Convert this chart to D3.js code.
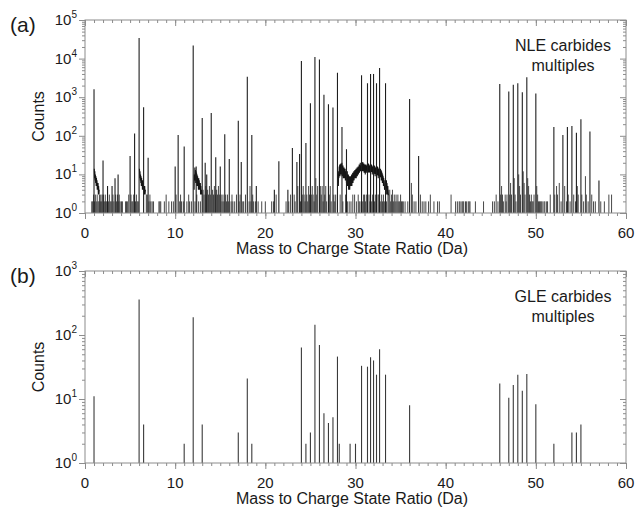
<!DOCTYPE html>
<html><head><meta charset="utf-8">
<script src="https://cdn.jsdelivr.net/npm/d3@7"></script>
<style>
body{margin:0;background:#fff;}
text{font-family:"Liberation Sans",Arial,sans-serif;fill:#1a1a1a;}
</style></head>
<body><svg id="c" width="636" height="508"></svg>
<script>
// ---------- data ----------
const xTicks = [0, 10, 20, 30, 40, 50, 60];
const yTicksA = [1, 10, 100, 1000, 10000, 100000];
const yTicksB = [1, 10, 100, 1000];
const xLabel = "Mass to Charge State Ratio (Da)";
const yLabel = "Counts";
const panelLabels = ["(a)", "(b)"];
const notesA = ["NLE carbides", "multiples"];
const notesB = ["GLE carbides", "multiples"];

// panel (a) main peaks [mass, counts]
const peaksA = [[1.0,1600],[2.0,23],[2.5,5],[3.0,5],[3.33,8],[3.67,10],[5.0,30],[5.5,115],[6.0,34000],[6.5,550],[7.0,27],
[10.0,16],[10.33,105],[11.0,53],[12.0,22000],[12.33,16],[13.0,290],[13.33,20],[13.5,10],[14.0,390],[14.5,28],[15.0,16],
[15.5,110],[16.0,25],[17.0,245],[17.33,21],[18.0,3400],[18.5,105],[19.0,5],[21.0,4],[21.5,22],[22.5,4],[23.0,48],[23.5,21],
[23.8,34],[24.0,8700],[24.5,65],[25.0,700],[25.5,11000],[26.0,9500],[26.5,1150],[27.0,660],[27.5,540],[28.0,4300],[28.5,170],
[29.0,45],[30.67,3700],[31.33,2300],[31.67,4000],[32.0,4000],[32.33,2300],[32.67,5700],[33.33,2300],[36.0,900],[37.0,30],
[46.0,2200],[47.0,1400],[47.5,2100],[48.0,2300],[48.5,1350],[49.0,3300],[50.0,1250],[52.0,170],[53.0,105],[53.5,170],
[54.0,180],[54.5,120],[55.0,270],[56.0,130],[57.0,7]];

// panel (a) low-count background bars [mass, counts]
const noiseA = [[0.75,2],[0.85,2],[0.95,3],[1.05,2],[1.15,3],[1.25,2],[1.35,3],[1.45,2],[1.55,2],[1.6,3],[1.7,2],[1.75,3],
[1.85,2],[1.9,3],[2.05,3],[2.15,2],[2.25,3],[2.3,2],[2.4,2],
[2.6,2],[2.7,3],[2.8,2],[2.9,2],[3.1,3],[3.2,2],[3.4,3],[3.5,2],[3.6,3],[3.75,2],[3.8,3],[3.9,2],[4.05,2],[4.15,2],
[4.5,2],[4.6,2],[4.7,2],[4.85,3],[5.1,3],[5.2,2],[5.3,2],[5.4,3],[5.6,2],[5.7,3],[5.8,2],[5.9,2],[6.8,3],[6.9,3],[7.1,2],
[7.2,3],[7.3,2],[7.45,2],[7.6,2],[8.2,2],[8.3,2],[8.4,2],[8.8,2],[9.0,3],[9.3,2],[9.6,2],[9.8,2],[10.1,3],[10.5,2],[10.6,3],
[10.7,2],[10.9,2],[11.3,2],[11.5,3],[11.6,2],[11.8,2],[12.2,2],[12.4,3],[12.6,2],[12.8,2],[13.1,4],[13.2,3],[13.4,5],[13.45,3],[13.6,4],[13.7,3],[13.8,5],
[13.9,3],[14.15,4],[14.25,3],[14.35,5],[14.45,3],[14.6,4],[14.7,3],[14.8,5],[14.9,3],[15.1,3],[15.2,2],[15.3,3],[15.4,2],
[15.6,3],[15.7,2],[15.8,3],[15.9,2],[16.2,2],[16.3,3],[16.4,2],[16.6,2],[16.8,3],[17.1,2],[17.2,3],[17.5,2],[17.6,2],
[17.8,3],[18.2,2],[18.3,5],[18.4,2],[18.6,3],[18.7,2],[18.9,2],[19.2,2],[19.6,2],[20.0,2],[20.7,2],[20.9,2],[21.2,3],
[22.3,2],[22.6,2],[22.8,3],[23.2,3],[23.3,2],[23.6,5],[23.9,2],[24.1,3],[24.2,5],[24.3,3],[24.4,2],[24.6,3],[24.7,2],
[24.8,5],[24.9,3],[25.1,3],[25.2,5],[25.3,3],[25.4,2],[25.6,8],[25.7,3],[25.8,5],[26.1,5],[26.2,3],[26.3,5],[26.4,2],
[26.6,3],[26.7,5],[26.8,2],[27.1,3],[27.2,5],[27.3,2],[27.6,3],[27.7,2],[27.8,3],[28.3,3],[28.6,2],[28.9,3],[29.1,2],[29.3,2],[29.5,2],[29.7,3],
[29.9,3],[30.1,2],[30.3,3],[30.4,2],[30.5,2],[30.8,2],[30.9,3],[31.0,3],[31.1,2],[31.2,3],[31.5,3],[31.6,2],[31.8,2],[31.9,3],[32.1,2],[32.2,3],
[32.3,2],[32.5,3],[32.6,3],[32.8,2],[32.9,3],[33.0,2],[33.1,3],[33.2,2],[33.45,2],[33.6,5],[33.7,3],[33.8,4],[33.9,2],[34.0,3],[34.1,4],[34.2,2],[34.3,3],[34.4,2],[34.5,3],[34.6,2],[34.7,3],
[34.8,2],[34.9,2],[35.0,3],[35.1,2],[35.2,2],[35.3,2],[35.5,2],[35.8,2],[36.2,6],[36.3,3],[36.5,2],[36.7,2],[37.2,3],
[37.4,2],[37.6,2],[37.8,2],[38.1,2],[38.3,3],[38.7,2],[39.1,2],[39.3,2],[40.6,3],[41.1,2],[41.3,2],[41.5,2],[41.6,2],
[41.8,2],[41.9,2],[42.0,2],[42.2,2],[42.3,2],[42.5,2],[42.6,2],[42.7,2],[43.3,2],[44.2,2],[45.2,2],[45.4,2],[45.6,3],
[45.8,2],[46.1,3],[46.2,5],[46.3,3],[46.4,2],[46.6,3],[46.7,2],[46.8,3],[47.1,3],[47.2,6],[47.3,3],[47.6,8],[47.7,3],
[47.8,2],[48.1,10],[48.2,5],[48.3,3],[48.6,12],[48.7,6],[48.8,3],[49.1,8],[49.2,5],[49.3,3],[49.4,2],[49.5,3],[49.6,2],
[49.7,2],[49.8,3],[50.1,5],[50.2,3],[50.3,2],[50.4,2],[50.5,2],[50.6,2],[50.7,2],[50.9,2],[51.0,2],[51.2,2],[51.3,2],
[51.6,3],[52.1,3],[52.3,5],[52.4,3],[52.6,6],[52.8,2],[53.2,5],[53.4,2],[53.6,3],[53.8,2],[54.2,3],[54.4,2],[54.6,5],
[54.7,3],[55.1,3],[55.3,2],[55.5,9],[55.6,3],[55.8,2],[56.2,3],[56.4,2],[56.6,2],[57.2,2],[57.6,2],[58.1,3],[58.4,3]];

// panel (a) continuous noisy stretches [mass, counts]
const tail1A = [[1.03,14],[1.06,8],[1.09,12],[1.12,7],[1.15,10],[1.18,6],[1.21,9],[1.24,5],[1.27,8],[1.30,5],[1.33,7],
[1.36,4],[1.39,6],[1.42,4],[1.45,6],[1.48,3],[1.51,5],[1.55,3],[1.58,4]];
const tail6A = [[6.04,14],[6.07,8],[6.10,12],[6.13,7],[6.16,10],[6.19,6],[6.22,9],[6.25,5],[6.28,8],[6.31,5],[6.34,7],
[6.37,4],[6.40,7],[6.43,4],[6.46,6],[6.52,4],[6.55,5],[6.58,3],[6.62,5],[6.66,3],[6.70,4]];
const band12A = [[12.10,4],[12.13,10],[12.16,7],[12.19,15],[12.22,8],[12.25,13],[12.28,6],[12.31,12],[12.34,7],[12.37,11],
[12.40,5],[12.43,10],[12.46,6],[12.49,9],[12.52,5],[12.55,8],[12.58,4],[12.61,8],[12.64,5],[12.67,7],[12.70,4],[12.73,6],
[12.76,4],[12.79,6],[12.82,3],[12.85,5],[12.88,3],[12.91,4],[12.95,3]];
const band30A = [[28.10,5],[28.13,12],[28.16,8],[28.19,16],[28.22,10],[28.25,18],[28.28,9],[28.31,15],[28.34,11],[28.37,19],
[28.40,10],[28.43,16],[28.46,12],[28.49,20],[28.52,9],[28.55,15],[28.58,11],[28.61,17],[28.64,8],[28.67,14],[28.70,10],
[28.73,15],[28.76,8],[28.79,13],[28.82,9],[28.85,14],[28.88,7],[28.91,12],[28.94,8],[28.97,11],[29.00,6],[29.03,10],
[29.06,7],[29.09,12],[29.12,5],[29.15,9],[29.18,6],[29.21,10],[29.24,4],[29.27,8],[29.30,5],[29.33,9],[29.36,4],[29.39,7],
[29.42,5],[29.45,9],[29.48,5],[29.51,8],[29.54,6],[29.57,10],[29.60,5],[29.63,9],[29.66,7],[29.69,11],[29.72,6],[29.75,10],
[29.78,8],[29.81,12],[29.84,7],[29.87,11],[29.90,9],[29.93,13],[29.96,8],[29.99,12],[30.02,9],[30.05,14],[30.08,8],
[30.11,13],[30.14,10],[30.17,15],[30.20,9],[30.23,14],[30.26,11],[30.29,16],[30.32,10],[30.35,15],[30.38,12],[30.41,18],
[30.44,11],[30.47,16],[30.50,13],[30.53,20],[30.56,12],[30.59,17],[30.62,14],[30.72,13],[30.75,20],[30.78,14],[30.81,21],
[30.84,12],[30.87,18],[30.90,13],[30.93,19],[30.96,11],[30.99,17],[31.02,12],[31.05,18],[31.08,10],[31.11,16],[31.14,12],
[31.17,18],[31.20,11],[31.23,17],[31.26,13],[31.40,12],[31.43,19],[31.46,13],[31.49,18],[31.52,11],[31.55,17],[31.58,12],
[31.74,12],[31.77,18],[31.80,13],[31.83,17],[31.86,10],[31.89,16],[31.92,12],[32.06,11],[32.09,17],[32.12,12],[32.15,16],
[32.18,9],[32.21,15],[32.24,11],[32.40,10],[32.43,16],[32.46,11],[32.49,15],[32.52,8],[32.55,14],[32.58,10],[32.74,9],
[32.77,14],[32.80,10],[32.83,13],[32.86,7],[32.89,12],[32.92,8],[32.95,11],[32.98,6],[33.01,10],[33.04,7],[33.07,9],
[33.10,5],[33.13,8],[33.16,6],[33.19,7],[33.22,4],[33.40,5],[33.43,7],[33.46,3],[33.49,6],[33.52,4],[33.55,5],[33.58,3],
[33.61,4],[33.64,3],[33.70,3]];

// panel (b) peaks [mass, counts]
const peaksB = [[1.0,11],[6.0,360],[6.5,4],[11.0,2],[12.0,190],[13.0,4],[17.0,3],[18.0,21],[18.5,2],[24.0,64],[24.5,2],
[25.0,3],[25.5,145],[26.0,70],[26.5,6],[27.0,4.2],[27.5,5.2],[28.0,46],[28.2,2],[29.4,2],[30.0,2],[30.67,33],[31.33,32],
[31.67,45],[32.0,40],[32.33,24],[32.67,60],[33.33,24],[36.0,8],[46.0,17.5],[47.0,10.5],[47.5,16.5],[48.0,24],[48.5,13.5],
[49.0,24.5],[50.0,8.3],[52.0,2],[54.0,3],[54.5,3],[55.0,4]];

// ---------- drawing ----------
const svg = d3.select("#c");
const x = d3.scaleLinear().domain([0, 60]).range([85, 626]);
const frameCol = "#8c8c8c";

function panel(cfg) {
  const y = d3.scaleLog().domain(cfg.yDomain).range([cfg.bottom, cfg.top]);
  const g = svg.append("g");
  const minorY = [];
  for (let e = 0; e < Math.log10(cfg.yDomain[1]); e++)
    for (let k = 2; k <= 9; k++) minorY.push(k * Math.pow(10, e));
  const minorX = d3.range(0, 61, 1);

  const tk = (axis, tr, vals, size) => {
    const a = g.append("g").attr("transform", tr)
      .call(axis.tickValues(vals).tickSize(size).tickFormat(""));
    a.select(".domain").remove();
    a.selectAll("line").attr("stroke", frameCol);
  };
  tk(d3.axisBottom(x), `translate(0,${cfg.bottom})`, minorX, 3);
  tk(d3.axisBottom(x), `translate(0,${cfg.bottom})`, xTicks, 6);
  tk(d3.axisBottom(x), `translate(0,${cfg.top})`, minorX, 3);
  tk(d3.axisBottom(x), `translate(0,${cfg.top})`, xTicks, 6);
  tk(d3.axisLeft(y), `translate(85,0)`, minorY, 3);
  tk(d3.axisLeft(y), `translate(85,0)`, cfg.yTicks, 6);
  tk(d3.axisLeft(y), `translate(626,0)`, minorY, 3);
  tk(d3.axisLeft(y), `translate(626,0)`, cfg.yTicks, 6);

  const lineGen = d3.line().x(d => x(d[0])).y(d => y(d[1]));
  const bars = (data, col, w) => g.append("g").selectAll("line").data(data).join("line")
    .attr("x1", d => x(d[0])).attr("x2", d => x(d[0]))
    .attr("y1", y(1)).attr("y2", d => y(d[1]))
    .attr("stroke", col).attr("stroke-width", w);
  (cfg.noise || []).length && bars(cfg.noise, "#333", 0.9);
  (cfg.paths || []).forEach(p => g.append("path").attr("d", lineGen(p))
    .attr("fill", "none").attr("stroke", "#151515").attr("stroke-width", 1.1));
  bars(cfg.peaks, cfg.peakCol, 1.1);

  g.append("rect").attr("x", 85).attr("y", cfg.top).attr("width", 626 - 85)
    .attr("height", cfg.bottom - cfg.top).attr("fill", "none").attr("stroke", frameCol).attr("stroke-width", 1);

  g.append("g").selectAll("text").data(xTicks).join("text")
    .attr("x", d => x(d)).attr("y", cfg.bottom + 25).attr("text-anchor", "middle")
    .attr("font-size", 15).text(d => d);
  g.append("text").attr("x", 352).attr("y", cfg.bottom + 41).attr("text-anchor", "middle")
    .attr("font-size", 16).text(xLabel);

  const yl = g.append("g").selectAll("text").data(cfg.yTicks).join("text")
    .attr("x", 77).attr("y", d => y(d) + 5).attr("text-anchor", "end").attr("font-size", 15);
  yl.append("tspan").text("10");
  yl.append("tspan").attr("dy", -7).attr("font-size", 10).text(d => Math.round(Math.log10(d)));

  g.append("text").attr("transform", `translate(44,${(cfg.top + cfg.bottom) / 2}) rotate(-90)`)
    .attr("text-anchor", "middle").attr("font-size", 16).text(yLabel);
  g.append("text").attr("x", 10).attr("y", cfg.top + 12).attr("font-size", 21).text(cfg.label);
  g.append("text").attr("x", 563).attr("y", cfg.top + 31).attr("text-anchor", "middle").attr("font-size", 16).text(cfg.notes[0]);
  g.append("text").attr("x", 563).attr("y", cfg.top + 51).attr("text-anchor", "middle").attr("font-size", 16).text(cfg.notes[1]);
}

panel({top: 20, bottom: 213, yDomain: [1, 1e5], yTicks: yTicksA, peaks: peaksA, noise: noiseA,
  paths: [tail1A, tail6A, band12A, band30A], peakCol: "#1e1e1e", label: panelLabels[0], notes: notesA});
panel({top: 271, bottom: 463, yDomain: [1, 1e3], yTicks: yTicksB, peaks: peaksB, noise: [],
  paths: [], peakCol: "#3a3a3a", label: panelLabels[1], notes: notesB});
</script></body></html>
